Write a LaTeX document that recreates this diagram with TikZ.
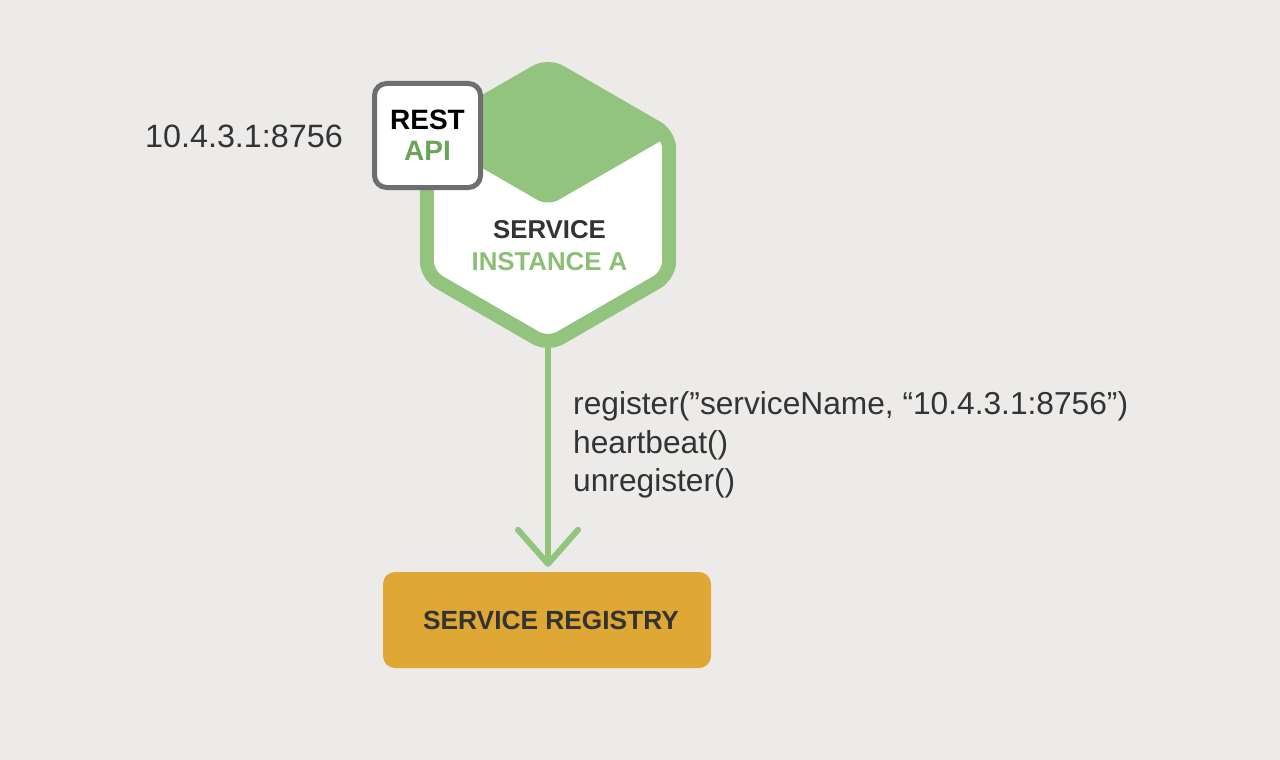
\documentclass[tikz,border=0pt]{standalone}
\usepackage{fontspec}
\setmainfont{Liberation Sans}
\usetikzlibrary{arrows.meta}
\definecolor{bg}{HTML}{ECEBE9}
\definecolor{hexgreen}{HTML}{93C47D}
\definecolor{instgreen}{HTML}{8CBF76}
\definecolor{apigreen}{HTML}{6AA35A}
\definecolor{boxgray}{HTML}{6E6E6E}
\definecolor{regfill}{HTML}{DFA733}
\definecolor{darktext}{HTML}{333333}
\tikzset{
  plaintext/.style={inner sep=0pt, text=darktext, font=\fontsize{31.7}{38.5}\selectfont, anchor=base west},
  restbox/.style={draw=boxgray, line width=5pt, fill=white, rounded corners=12pt,
    minimum width=106pt, minimum height=104pt, inner sep=0pt, align=center,
    font=\bfseries\fontsize{28}{31}\selectfont},
  regbox/.style={fill=regfill, rounded corners=12pt, minimum width=328pt, minimum height=96pt,
    inner sep=0pt, text=darktext, font=\bfseries\fontsize{26.3}{30}\selectfont},
  svctext/.style={inner sep=0pt, align=center, font=\bfseries\fontsize{25.8}{31.5}\selectfont},
  flow/.style={draw=hexgreen, line width=6pt, -{Straight Barb[length=34pt,width=60pt,round]}},
}
\begin{document}
\begin{tikzpicture}[x=1pt,y=-1pt]
\fill[bg] (0,0) rectangle (1280,760);
\useasboundingbox (0,0) rectangle (1280,760);
% hexagon
\def\hexpath{(548,65) -- (669.24,135) -- (669.24,275) -- (548,345) -- (426.76,275) -- (426.76,135) -- cycle}
\fill[white] \hexpath;
\begin{scope}
  \clip \hexpath;
  \fill[hexgreen, rounded corners=12pt] (548,206) -- (300,62.8) -- (300,-100) -- (796,-100) -- (796,62.8) -- cycle;
\end{scope}
\draw[hexgreen, line width=14pt, rounded corners=14pt] \hexpath;
\coordinate (hexbot) at (548,345);
\node[svctext] (svc) at (549.5,245.6) {\textcolor{darktext}{SERVICE}\\\textcolor{instgreen}{INSTANCE A}};
% REST API box
\node[restbox] (rest) at (427.5,135.5) {\textcolor{black}{REST}\\\textcolor{apigreen}{API}};
\node[plaintext] (addr) at (145,147) {\fontsize{32.3}{36}\selectfont 10.4.3.1:8756};
% registry
\node[regbox] (reg) at (547,620) {\hspace*{8pt}SERVICE REGISTRY};
\draw[flow, shorten >=5pt] (hexbot) -- (reg.north -| hexbot);
% calls
\node[plaintext] (l1) at (573,414.5) {register(”serviceName, “10.4.3.1:8756”)};
\node[plaintext] (l2) at (573,453) {heartbeat()};
\node[plaintext] (l3) at (573,491.5) {unregister()};
\end{tikzpicture}
\end{document}
